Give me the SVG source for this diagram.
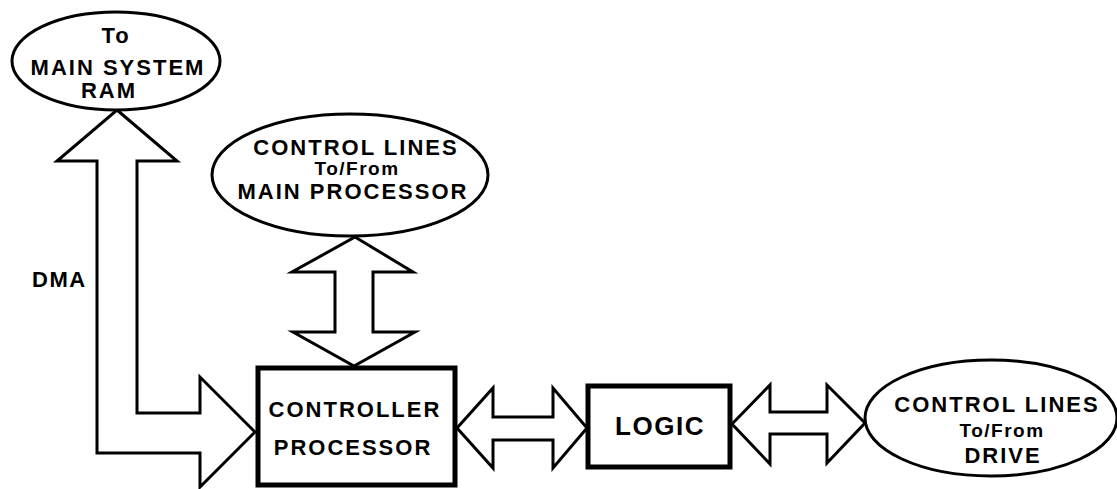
<svg xmlns="http://www.w3.org/2000/svg" width="1117" height="489" viewBox="0 0 1117 489">
<style>
.shape{fill:#fff;stroke:#000;stroke-width:3;stroke-linejoin:miter}
.box{fill:#fff;stroke:#000;stroke-width:5}
.t{font-family:"Liberation Sans",Arial,sans-serif;font-weight:bold;font-size:22px;letter-spacing:2px;fill:#000;text-anchor:middle}
.big{font-size:26px;letter-spacing:1.5px}
.sm{font-size:19px;letter-spacing:1.5px}
</style>
<rect width="1117" height="489" fill="#fff"/>
<g id="connectors">
<polygon class="shape" points="117,110 177,161 137,161 137,413 200,413 200,377 255,432 200,487 200,453 97,453 97,161 57,161"/>
<polygon class="shape" points="355,237 413,272 373,272 373,332 415,332 354,366 293,332 335,332 335,272 292,272"/>
<polygon class="shape" points="457,428 493,388 493,417 553,417 553,388 587,428 553,468 553,440 493,440 493,468"/>
<polygon class="shape" points="732,424 770,385 770,412 827,412 827,385 865,423 827,463 827,434 770,434 770,464"/>
</g>
<g id="ram">
<ellipse class="shape" cx="116" cy="61" rx="104" ry="49"/>
<text class="t" x="116" y="43">To</text>
<text class="t" x="118" y="75">MAIN SYSTEM</text>
<text class="t" x="109" y="98">RAM</text>
</g>
<g id="mainproc">
<ellipse class="shape" cx="350" cy="175" rx="138" ry="61"/>
<text class="t" x="356" y="155">CONTROL LINES</text>
<text class="t sm" x="357" y="175">To/From</text>
<text class="t" x="353" y="199">MAIN PROCESSOR</text>
</g>
<g id="dma">
<text class="t" x="32" y="287" style="text-anchor:start;letter-spacing:1.5px">DMA</text>
</g>
<g id="controller">
<rect class="box" x="258" y="368" width="197" height="117"/>
<text class="t" x="355" y="417">CONTROLLER</text>
<text class="t" x="353" y="455">PROCESSOR</text>
</g>
<g id="logic">
<rect class="box" x="588" y="386" width="142" height="81"/>
<text class="t big" x="660" y="435">LOGIC</text>
</g>
<g id="drive">
<ellipse class="shape" cx="991" cy="418" rx="126" ry="58"/>
<text class="t" x="997" y="412">CONTROL LINES</text>
<text class="t sm" x="1002" y="437">To/From</text>
<text class="t" x="1003" y="463">DRIVE</text>
</g>
</svg>
